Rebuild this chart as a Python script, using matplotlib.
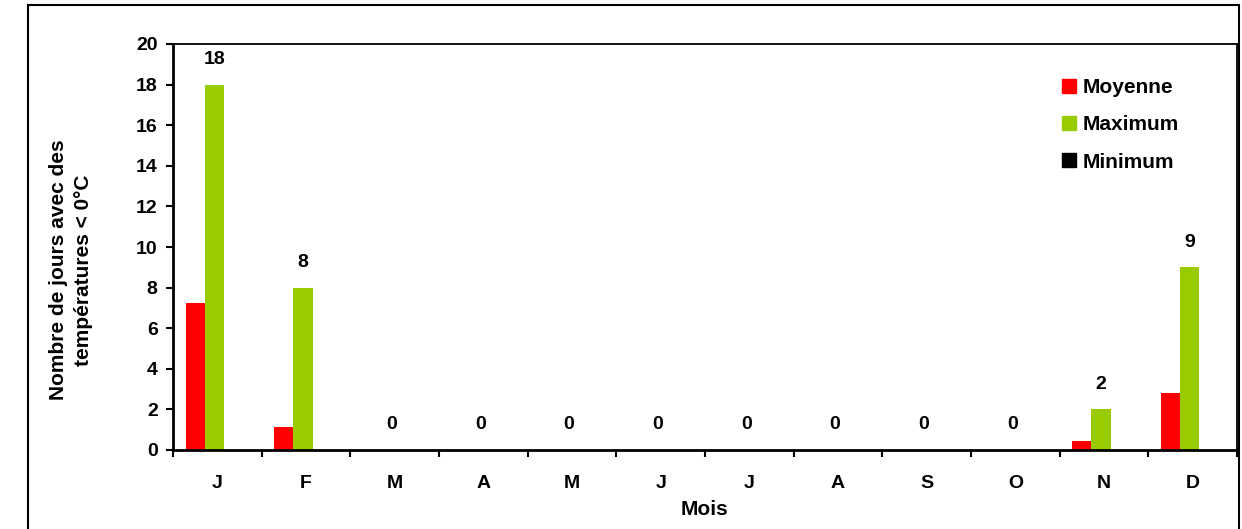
import numpy as np
import matplotlib
matplotlib.use('Agg')
import matplotlib.pyplot as plt
from matplotlib.patches import Rectangle
from matplotlib.lines import Line2D

plt.rcParams['font.family'] = ['Liberation Sans', 'DejaVu Sans']
plt.rcParams['font.weight'] = 'bold'

# donnees
mois = ['J', 'F', 'M', 'A', 'M', 'J', 'J', 'A', 'S', 'O', 'N', 'D']
moyenne = [7.25, 1.13, 0, 0, 0, 0, 0, 0, 0, 0, 0.44, 2.8]
maximum = [18, 8, 0, 0, 0, 0, 0, 0, 0, 0, 2, 9]
minimum = [0, 0, 0, 0, 0, 0, 0, 0, 0, 0, 0, 0]

W, H = 1242, 529
fig = plt.figure(figsize=(W / 100, H / 100), dpi=100)
ax = fig.add_axes([173 / W, 1 - 450 / H, (1237 - 173) / W, (450 - 44) / H])

x = np.arange(len(mois)) - 0.034
bw = 0.215
ax.bar(x - bw, moyenne, bw, color='#ff0000', label='Moyenne')
bars_max = ax.bar(x, maximum, bw, color='#99cc00', label='Maximum')
ax.bar(x + bw, minimum, bw, color='#000000', label='Minimum')

# etiquettes sur les barres maximum
for b, v in zip(bars_max, maximum):
    ax.annotate('%d' % v, (b.get_x() + b.get_width() / 2, v),
                xytext=(0, 12), textcoords='offset points',
                ha='center', va='bottom', fontsize=14, fontweight='bold')

ax.set_xlim(-0.5, len(mois) - 0.5)
ax.set_ylim(0, 20)
ax.set_yticks(np.arange(0, 21, 2))
ax.set_xticks(np.arange(len(mois)))
ax.set_xticklabels(mois)
ax.set_xticks(np.arange(-0.5, len(mois), 1), minor=True)
ax.tick_params(axis='x', which='major', length=0, pad=18, labelsize=14)
ax.tick_params(axis='x', which='minor', length=5, width=1.5, direction='out')
ax.tick_params(axis='y', length=5, width=1.5, direction='out', pad=6, labelsize=14)

for s in ['left', 'bottom']:
    ax.spines[s].set_linewidth(2)
for s in ['top', 'right']:
    ax.spines[s].set_linewidth(1.3)

ax.set_xlabel('Mois', fontsize=15, fontweight='bold', labelpad=6)
ax.set_ylabel('Nombre de jours avec des\ntempératures < 0°C', fontsize=15,
              fontweight='bold', linespacing=1.4)
ax.yaxis.set_label_coords(-0.0752, 0.443)

handles = [Line2D([], [], marker='s', linestyle='none', markersize=9.5,
                  markerfacecolor=c, markeredgecolor=c)
           for c in ['#ff0000', '#99cc00', '#000000']]
leg = ax.legend(handles, ['Moyenne', 'Maximum', 'Minimum'], loc='upper left',
                bbox_to_anchor=(0.8323, 0.916), frameon=False, fontsize=15,
                labelspacing=0.88, handletextpad=0.17, handlelength=1.0,
                borderpad=0, borderaxespad=0)
for t in leg.get_texts():
    t.set_fontweight('bold')

# cadre exterieur
fig.patches.append(Rectangle((28 / W, -0.05), (1239 - 28) / W, 1.05 - 5 / H,
                             transform=fig.transFigure, fill=False,
                             edgecolor='black', linewidth=1.5))

fig.savefig('out.png', dpi=100)
